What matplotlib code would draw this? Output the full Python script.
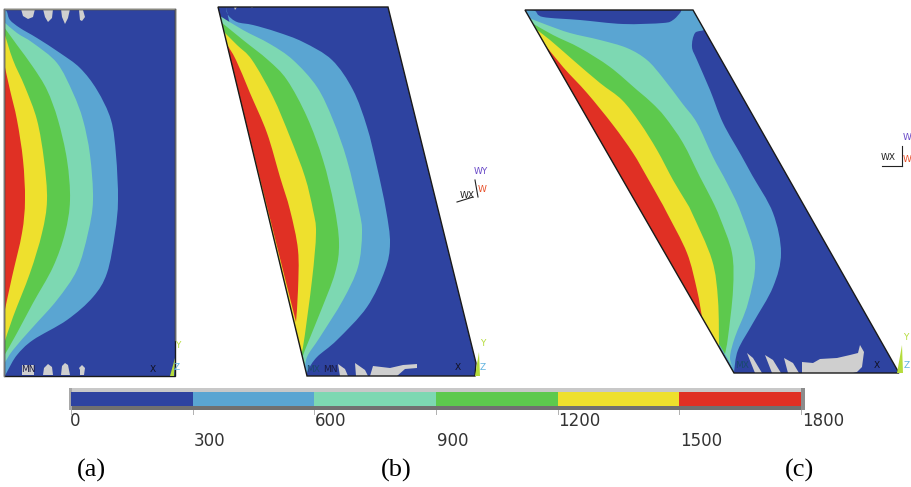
import numpy as np
import matplotlib
matplotlib.use("Agg")
import matplotlib.pyplot as plt
from matplotlib.path import Path
from matplotlib.patches import PathPatch, Polygon, Rectangle
from matplotlib.transforms import blended_transform_factory

# ---------- data (pixel coordinates of the contour lines) ----------
levels = [0, 300, 600, 900, 1200, 1500, 1800]
level_labels = ["0", "300", "600", "900", "1200", "1500", "1800"]
band_colors = ["#2e43a0", "#5aa5d2", "#7dd8b2", "#5dc94d", "#eee02d", "#e03024"]
panel_names = ["(a)", "(b)", "(c)"]

outline_a = [(4, 9), (175, 9), (175, 376), (4, 376)]
a_300 = [(5, 9), (7, 12), (10, 20), (20, 28), (37, 38), (60, 53), (80, 68), (97, 90), (111, 120), (116, 155),
         (118, 200), (115, 233), (107, 273), (93, 297), (67, 320), (33, 340), (17, 355), (8, 370), (5, 376)]
a_600 = [(4, 22), (17, 33), (33, 43), (57, 63), (73, 93), (83, 120), (90, 155), (93, 200), (88, 233), (77, 270),
         (57, 300), (33, 327), (13, 350), (4, 364)]
a_900 = [(4, 27), (17, 45), (33, 67), (47, 90), (58, 120), (67, 160), (70, 200), (65, 233), (53, 267), (33, 303),
         (17, 333), (4, 356)]
a_1200 = [(4, 32), (13, 60), (25, 87), (37, 120), (44, 160), (47, 200), (42, 233), (30, 273), (13, 317), (4, 344)]
a_1500 = [(4, 63), (10, 90), (17, 120), (23, 160), (25, 200), (22, 233), (12, 277), (4, 314)]

outline_b = [(218, 7), (388, 7), (476, 363), (475, 376), (307, 376)]
b_300 = [(226, 7), (228, 15), (237, 22), (253, 25), (277, 32), (303, 42), (332, 60), (353, 90), (367, 127), (377, 167),
         (386, 210), (390, 243), (385, 270), (367, 307), (337, 340), (317, 357), (308, 370), (307, 376)]
b_600 = [(220, 16), (243, 30), (270, 44), (293, 60), (317, 87), (333, 120), (347, 160), (359, 210), (362, 233),
         (358, 267), (343, 300), (320, 337), (307, 357), (305, 372)]
b_900 = [(221, 22), (243, 40), (268, 60), (287, 80), (307, 117), (323, 160), (334, 205), (339, 243), (335, 273),
         (320, 313), (305, 350), (302, 360)]
b_1200 = [(222, 30), (237, 45), (252, 60), (273, 97), (290, 137), (305, 177), (313, 210), (316, 233), (312, 280),
          (303, 347), (300, 352)]
b_1500 = [(226, 43), (236, 60), (250, 93), (267, 133), (280, 177), (290, 210), (298, 250), (298, 290), (296, 322)]

outline_c = [(525, 10), (693, 10), (899, 373), (734, 373)]
c_300 = [(525, 10), (535, 11), (543, 17), (580, 20), (623, 24), (663, 23), (673, 20), (680, 13), (683, 9), (695, 8),
         (705, 28), (695, 33), (692, 47), (697, 60), (710, 90), (723, 123), (741, 155), (752, 175), (773, 213),
         (781, 253), (773, 287), (753, 323), (738, 350), (734, 372)]
c_600 = [(529, 18), (547, 25), (570, 33), (600, 40), (627, 48), (647, 60), (663, 78), (682, 103), (697, 123),
         (713, 157), (727, 183), (741, 213), (755, 260), (748, 303), (735, 337), (730, 357), (733, 368)]
c_900 = [(532, 23), (553, 35), (580, 48), (610, 67), (637, 90), (652, 103), (665, 117), (683, 143), (700, 177),
         (712, 200), (720, 218), (732, 253), (733, 290), (728, 337), (725, 354)]
c_1200 = [(533, 27), (550, 40), (573, 60), (600, 83), (622, 100), (640, 123), (657, 150), (673, 180), (685, 200),
          (692, 213), (712, 260), (718, 300), (719, 348)]
c_1500 = [(542, 41), (563, 67), (587, 93), (613, 125), (633, 153), (647, 177), (660, 200), (667, 213), (687, 253),
          (697, 290), (702, 317)]

blobs_a = [[(21, 9), (23, 16), (28, 19), (33, 17), (35, 9)], [(43, 9), (45, 17), (48, 22), (52, 18), (53, 9)],
           [(61, 9), (62, 17), (65, 24), (68, 18), (70, 9)], [(79, 10), (80, 20), (82, 21), (85, 17), (83, 10)],
           [(22, 375), (22, 365), (34, 365), (34, 375)],
           [(43, 375), (44, 368), (48, 364), (52, 367), (53, 375)], [(61, 375), (62, 366), (65, 363), (68, 365), (70, 375)],
           [(80, 375), (80, 370), (79, 368), (82, 365), (85, 368), (84, 375)]]
blobs_b = [[(234, 7), (235, 10), (237, 7)], [(251, 7), (252, 8), (253, 7)],
           [(338, 364), (345, 369), (348, 376), (340, 376)], [(355, 363), (365, 370), (368, 376), (356, 376)],
           [(370, 376), (373, 366), (390, 368), (403, 365), (417, 364), (417, 368), (405, 369), (397, 376)]]
blobs_c = [[(747, 353), (753, 358), (762, 373), (755, 373)], [(765, 355), (773, 360), (781, 373), (772, 373)],
           [(784, 358), (793, 363), (799, 373), (788, 373)],
           [(802, 373), (802, 362), (813, 363), (820, 359), (837, 358), (850, 355), (858, 353), (860, 345), (864, 352),
            (862, 367), (857, 372), (853, 373)]]

panels = [(outline_a, [a_300, a_600, a_900, a_1200, a_1500], blobs_a),
          (outline_b, [b_300, b_600, b_900, b_1200, b_1500], blobs_b),
          (outline_c, [c_300, c_600, c_900, c_1200, c_1500], blobs_c)]


def smooth_region(points):
    """Closed region: Catmull-Rom curve through the contour points, closed along the wall."""
    p = np.asarray(points, float)
    q = np.vstack([p[0], p, p[-1]])
    verts = [tuple(p[0])]
    codes = [Path.MOVETO]
    for i in range(1, len(q) - 2):
        c1 = q[i] + (q[i + 1] - q[i - 1]) / 6
        c2 = q[i + 1] - (q[i + 2] - q[i]) / 6
        verts += [tuple(c1), tuple(c2), tuple(q[i + 1])]
        codes += [Path.CURVE4] * 3
    verts.append(tuple(p[0]))
    codes.append(Path.CLOSEPOLY)
    return Path(verts, codes)


fig = plt.figure(figsize=(9.12, 4.87), dpi=100, facecolor="white")
ax = fig.add_axes([0, 0, 1, 1])
ax.set_xlim(0, 912)
ax.set_ylim(487, 0)
ax.axis("off")

for outline, curves, blobs in panels:
    base = Polygon(outline, closed=True, fc=band_colors[0], ec="none", zorder=1)
    ax.add_patch(base)
    for k, curve in enumerate(curves):
        patch = PathPatch(smooth_region(curve), fc=band_colors[k + 1], ec="none", zorder=2 + k)
        ax.add_patch(patch)
        patch.set_clip_path(base)
    for blob in blobs:
        ax.add_patch(Polygon(blob, closed=True, fc="#cfcfcf", ec="none", zorder=8))
    ax.add_patch(Polygon(outline, closed=True, fc="none", ec="#1a1a1a", lw=1.0, zorder=9))

# panel (a) frame is a softer grey on top and at left
ax.plot([4, 175], [9, 9], color="#8a8a80", lw=1.0, zorder=10)
ax.plot([4, 4], [9, 376], color="#777777", lw=1.0, zorder=10)
ax.plot([175, 175], [9, 340], color="#666666", lw=1.0, zorder=10)

# global-axis slivers
for sliver in ([(170, 376), (175, 358), (174, 376)], [(475, 376), (479, 352), (480, 376)],
               [(897, 373), (902, 345), (903, 373)]):
    ax.add_patch(Polygon(sliver, closed=True, fc="#b5dc3c", ec="none", zorder=10))

mono = dict(family="DejaVu Sans", fontsize=6.5, ha="center", va="center", zorder=11)
for x, y, s, c in [(28, 369, "MN", "#1a1a40"), (313, 369, "MX", "#1a4a70"), (330, 369, "MN", "#1a1a40"),
                   (742, 365, "MX", "#1a4a70"), (153, 369, "X", "#111122"), (458, 368, "X", "#111122"),
                   (877, 365, "X", "#111122"), (178, 345, "Y", "#b5dc3c"), (177, 368, "Z", "#62b4e0"),
                   (483, 343, "Y", "#b5dc3c"), (483, 368, "Z", "#62b4e0"), (906, 337, "Y", "#b5dc3c"),
                   (907, 365, "Z", "#62b4e0"), (481, 172, "WY", "#6a4ac8"), (482, 190, "W", "#e8502a"),
                   (467, 195, "WX", "#222222"), (907, 137, "W", "#6a4ac8"), (888, 158, "WX", "#222222"),
                   (907, 159, "W", "#e8502a")]:
    ax.text(x, y, s, color=c, clip_on=True, **mono)
ax.plot([475, 478], [180, 197], color="#222222", lw=0.8)
ax.plot([457, 473], [202, 197], color="#222222", lw=0.8)
ax.plot([902, 902], [146, 166], color="#222222", lw=0.8)
ax.plot([882, 902], [166, 166], color="#222222", lw=0.8)

# colour bar
ax.add_patch(Rectangle((69, 388), 736, 22, fc="#c8c8c8", ec="none", zorder=1))
ax.add_patch(Rectangle((69, 406), 736, 4, fc="#707070", ec="none", zorder=2))
ax.add_patch(Rectangle((69, 388), 3, 22, fc="#a8a8a8", ec="none", zorder=2))
ax.add_patch(Rectangle((801, 388), 4, 22, fc="#8c8c8c", ec="none", zorder=2))

cax = fig.add_axes([71 / 912, 1 - 406 / 487, (801 - 71) / 912, 14 / 487])
cax.set_xlim(levels[0], levels[-1])
cax.set_ylim(0, 1)
cax.axis("off")
cax.barh(0.5, np.diff(levels), left=levels[:-1], height=1, color=band_colors, zorder=3)

trans = blended_transform_factory(cax.transData, ax.transData)
for i, (v, lab) in enumerate(zip(levels, level_labels)):
    ax.plot([v, v], [410, 414], color="#b0b0b0", lw=0.7, transform=trans, clip_on=False)
    ax.annotate(lab, (v, 421 if i % 2 == 0 else 441), xycoords=trans, xytext=(0.5 if v else -1, 0),
                textcoords="offset points", ha="left", va="center", fontsize=12, color="#333333",
                family="DejaVu Sans", annotation_clip=False)

for x, name in zip([91, 396, 800], panel_names):
    ax.text(x, 470, name, ha="center", va="center", fontsize=19, family="Liberation Serif", color="black")

fig.savefig("out.png", dpi=100)
